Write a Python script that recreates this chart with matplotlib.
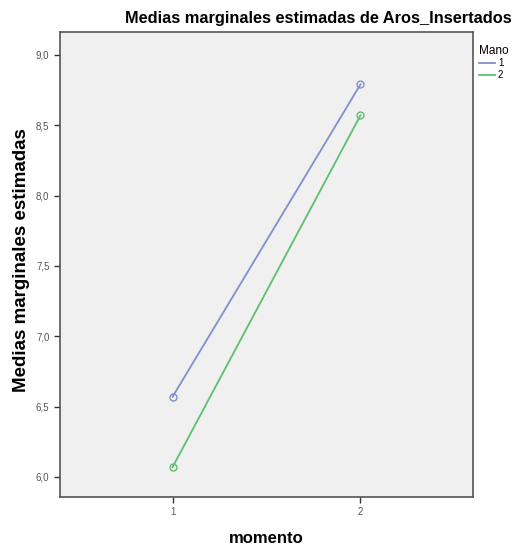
import matplotlib
matplotlib.use("Agg")
import matplotlib.pyplot as plt
from matplotlib.lines import Line2D
from matplotlib.ticker import FuncFormatter

# estimated marginal means per hand, at each moment
momento = [1, 2]
mano_labels = ["1", "2"]
medias_mano1 = [6.57, 8.79]
medias_mano2 = [6.07, 8.57]
y_ticks = [6.0, 6.5, 7.0, 7.5, 8.0, 8.5, 9.0]

plt.rcParams['font.family'] = ['Liberation Sans Narrow', 'Liberation Sans', 'DejaVu Sans']
wide = ['Liberation Sans', 'DejaVu Sans']

fig = plt.figure(figsize=(5.2, 5.5), dpi=100)
ax = fig.add_axes([0.115, 0.0964, 0.795, 0.8456])
ax.set_facecolor('#f0f0f0')

colors = ['#8090cc', '#5cc06c']
for vals, lab, c in zip([medias_mano1, medias_mano2], mano_labels, colors):
    ax.plot(momento, vals, color=c, lw=1.3, marker='o', ms=5,
            mfc='none', mec=c, mew=1.0)

ax.set_xlim(0.4, 2.6)
ax.set_ylim(5.858, 9.163)
ax.set_xticks(momento)
ax.set_yticks(y_ticks)
ax.yaxis.set_major_formatter(FuncFormatter(lambda v, p: f"{v:.1f}".replace('.', ',')))
ax.tick_params(labelsize=7, labelcolor='#555555', color='#333333', length=4, width=1)

for s in ax.spines.values():
    s.set_color('#555555')
    s.set_linewidth(1.2)

ax.set_xlabel('momento', fontsize=12, fontweight='bold', family=wide)
ax.xaxis.set_label_coords(0.5, -0.074)
ax.set_ylabel('Medias marginales estimadas', fontsize=13.5, fontweight='bold', family=wide)
ax.yaxis.set_label_coords(-0.072, 0.51)
fig.text(0.613, 0.966, 'Medias marginales estimadas de Aros_Insertados',
         ha='center', va='center', fontsize=11.8, fontweight='bold')

handles = [Line2D([], [], color=c, lw=1.3) for c in colors]
fig.legend(handles, mano_labels, loc='upper left', bbox_to_anchor=(0.905, 0.935),
           frameon=False, title='Mano', fontsize=7, title_fontsize=8.5,
           handlelength=1.6, handletextpad=0.3, labelspacing=0.2, alignment='left')

fig.savefig('out.png', dpi=100)
